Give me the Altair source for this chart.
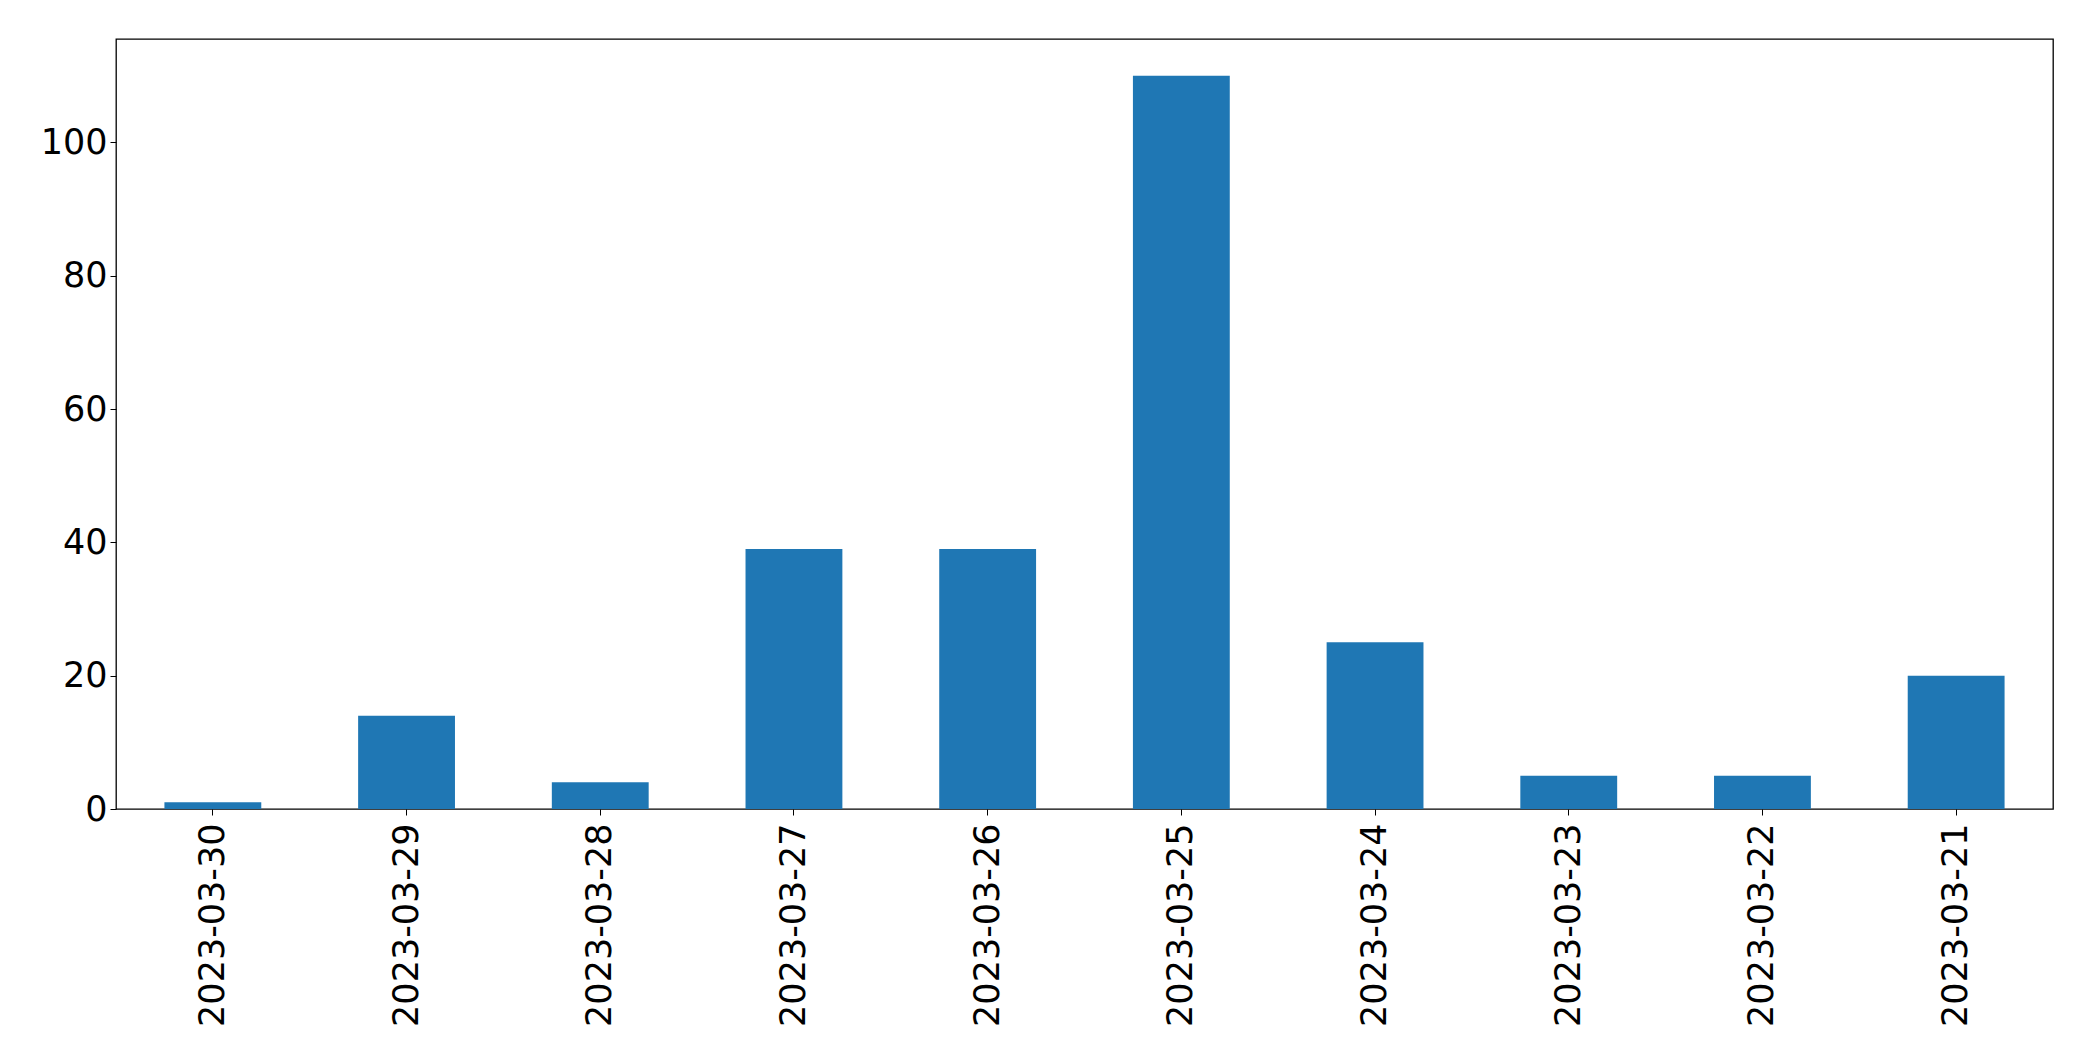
import altair as alt
import pandas as pd

dates = ["2023-03-30", "2023-03-29", "2023-03-28", "2023-03-27", "2023-03-26",
         "2023-03-25", "2023-03-24", "2023-03-23", "2023-03-22", "2023-03-21"]
counts = [1, 14, 4, 39, 39, 110, 25, 5, 5, 20]

df = pd.DataFrame({"date": dates, "count": counts})

chart = alt.Chart(df).mark_bar(color="#1f77b4").encode(
    x=alt.X("date:N", sort=None, title=None,
            scale=alt.Scale(paddingInner=0.5, paddingOuter=0.25),
            axis=alt.Axis(labelAngle=-90, labelFontSize=35, labelFont="DejaVu Sans",
                          labelColor="black", tickColor="black", tickSize=6,
                          labelPadding=8, domain=False, labelBaseline="middle",
                          labelAlign="right", labelLimit=0)),
    y=alt.Y("count:Q", title=None,
            scale=alt.Scale(domain=[0, 115.5], nice=False),
            axis=alt.Axis(values=[0, 20, 40, 60, 80, 100], labelFontSize=35,
                          labelFont="DejaVu Sans", labelColor="black",
                          tickColor="black", tickSize=6, labelPadding=3,
                          grid=False, domain=False)),
).properties(
    width=1937, height=770,
    autosize=alt.AutoSizeParams(type="none"),
    padding={"left": 108, "top": 31, "right": 24, "bottom": 244},
).configure_view(stroke="black", strokeWidth=1.3)

chart.save("out.html", embed_options={"renderer": "svg", "actions": False})
